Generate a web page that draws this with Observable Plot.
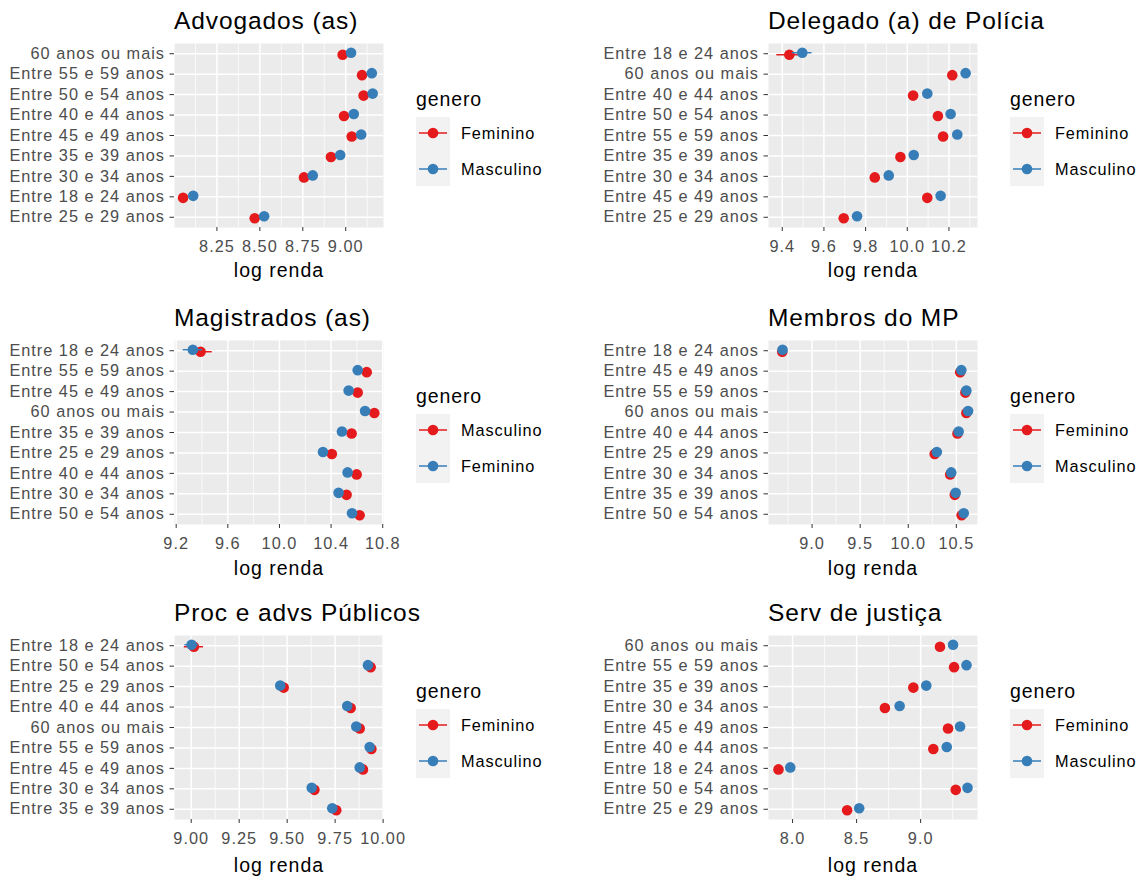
<!DOCTYPE html>
<html>
<head>
<meta charset="utf-8">
<script src="https://cdn.jsdelivr.net/npm/d3@7"></script>
<script src="https://cdn.jsdelivr.net/npm/@observablehq/plot@0.6"></script>
<style>
  html, body { margin: 0; padding: 0; background: #ffffff; }
  body { font-family: "Liberation Sans", Arial, sans-serif; }
  #root { position: relative; width: 1143px; height: 877px; overflow: hidden; }
  .cell { position: absolute; width: 570px; }
  .cell svg { display: block; overflow: visible; }
  .ptitle { position: absolute; left: 174px; font-size: 24.5px; line-height: 25px; letter-spacing: 0.9px; color: #000; white-space: nowrap; }
  .legend { position: absolute; left: 410px; }
</style>
</head>
<body>
<div id="root"></div>
<script>
// ---------- data ----------
const advCats = ["60 anos ou mais","Entre 55 e 59 anos","Entre 50 e 54 anos","Entre 40 e 44 anos","Entre 45 e 49 anos","Entre 35 e 39 anos","Entre 30 e 34 anos","Entre 18 e 24 anos","Entre 25 e 29 anos"];
const advFem  = [8.982, 9.095, 9.104, 8.990, 9.035, 8.914, 8.757, 8.053, 8.470];
const advMasc = [9.031, 9.152, 9.157, 9.047, 9.090, 8.968, 8.808, 8.112, 8.525];
const advFemErr  = [0.012, 0.010, 0.010, 0.010, 0.010, 0.010, 0.010, 0.020, 0.012];
const advMascErr = [0.012, 0.010, 0.010, 0.010, 0.010, 0.010, 0.010, 0.020, 0.012];
const advTicks = [8.25, 8.5, 8.75, 9.0];

const delCats = ["Entre 18 e 24 anos","60 anos ou mais","Entre 40 e 44 anos","Entre 50 e 54 anos","Entre 55 e 59 anos","Entre 35 e 39 anos","Entre 30 e 34 anos","Entre 45 e 49 anos","Entre 25 e 29 anos"];
const delFem  = [9.434, 10.216, 10.028, 10.147, 10.172, 9.967, 9.844, 10.096, 9.695];
const delMasc = [9.496, 10.280, 10.096, 10.208, 10.240, 10.031, 9.911, 10.160, 9.759];
const delFemErr  = [0.060, 0.012, 0.010, 0.010, 0.010, 0.010, 0.010, 0.010, 0.012];
const delMascErr = [0.047, 0.012, 0.010, 0.010, 0.010, 0.010, 0.010, 0.010, 0.012];
const delTicks = [9.4, 9.6, 9.8, 10.0, 10.2];

const magCats = ["Entre 18 e 24 anos","Entre 55 e 59 anos","Entre 45 e 49 anos","60 anos ou mais","Entre 35 e 39 anos","Entre 25 e 29 anos","Entre 40 e 44 anos","Entre 30 e 34 anos","Entre 50 e 54 anos"];
const magMasc = [9.389, 10.676, 10.606, 10.735, 10.559, 10.406, 10.598, 10.520, 10.621];
const magFem  = [9.329, 10.606, 10.536, 10.663, 10.484, 10.337, 10.528, 10.458, 10.562];
const magMascErr = [0.090, 0.015, 0.012, 0.015, 0.012, 0.012, 0.012, 0.012, 0.012];
const magFemErr  = [0.075, 0.015, 0.012, 0.015, 0.012, 0.012, 0.012, 0.012, 0.012];
const magTicks = [9.2, 9.6, 10.0, 10.4, 10.8];

const mpCats = ["Entre 18 e 24 anos","Entre 45 e 49 anos","Entre 55 e 59 anos","60 anos ou mais","Entre 40 e 44 anos","Entre 25 e 29 anos","Entre 30 e 34 anos","Entre 35 e 39 anos","Entre 50 e 54 anos"];
const mpFem  = [8.690, 10.540, 10.594, 10.604, 10.512, 10.275, 10.436, 10.484, 10.555];
const mpMasc = [8.693, 10.552, 10.604, 10.622, 10.524, 10.297, 10.447, 10.493, 10.577];
const mpFemErr  = [0.035, 0.015, 0.012, 0.012, 0.012, 0.012, 0.012, 0.012, 0.012];
const mpMascErr = [0.015, 0.010, 0.010, 0.010, 0.010, 0.010, 0.010, 0.010, 0.010];
const mpTicks = [9.0, 9.5, 10.0, 10.5];

const procCats = ["Entre 18 e 24 anos","Entre 50 e 54 anos","Entre 25 e 29 anos","Entre 40 e 44 anos","60 anos ou mais","Entre 55 e 59 anos","Entre 45 e 49 anos","Entre 30 e 34 anos","Entre 35 e 39 anos"];
const procFem  = [9.014, 9.935, 9.482, 9.831, 9.878, 9.939, 9.895, 9.642, 9.756];
const procMasc = [9.002, 9.921, 9.464, 9.813, 9.860, 9.930, 9.878, 9.628, 9.735];
const procFemErr  = [0.050, 0.025, 0.020, 0.022, 0.022, 0.025, 0.022, 0.020, 0.022];
const procMascErr = [0.035, 0.012, 0.012, 0.012, 0.012, 0.012, 0.012, 0.012, 0.012];
const procTicks = [9.0, 9.25, 9.5, 9.75, 10.0];

const servCats = ["60 anos ou mais","Entre 55 e 59 anos","Entre 35 e 39 anos","Entre 30 e 34 anos","Entre 45 e 49 anos","Entre 40 e 44 anos","Entre 18 e 24 anos","Entre 50 e 54 anos","Entre 25 e 29 anos"];
const servFem  = [9.151, 9.261, 8.943, 8.721, 9.214, 9.099, 7.890, 9.274, 8.426];
const servMasc = [9.253, 9.358, 9.044, 8.836, 9.308, 9.204, 7.982, 9.366, 8.520];
const servFemErr  = [0.008, 0.008, 0.008, 0.008, 0.008, 0.008, 0.012, 0.008, 0.008];
const servMascErr = [0.008, 0.008, 0.008, 0.008, 0.008, 0.008, 0.012, 0.008, 0.008];
const servTicks = [8.0, 8.5, 9.0];

// ---------- panels ----------
const RED = "#E41A1C", BLUE = "#377EB8";
const panels = [
  {title: "Advogados (as)", cats: advCats, levels: ["Feminino","Masculino"], vals: [advFem, advMasc], errs: [advFemErr, advMascErr], ticks: advTicks, fmt: ".2f", domain: [8.003, 9.22]},
  {title: "Delegado (a) de Polícia", cats: delCats, levels: ["Feminino","Masculino"], vals: [delFem, delMasc], errs: [delFemErr, delMascErr], ticks: delTicks, fmt: ".1f", domain: [9.334, 10.337]},
  {title: "Magistrados (as)", cats: magCats, levels: ["Masculino","Feminino"], vals: [magMasc, magFem], errs: [magMascErr, magFemErr], ticks: magTicks, fmt: ".1f", domain: [9.187, 10.806]},
  {title: "Membros do MP", cats: mpCats, levels: ["Feminino","Masculino"], vals: [mpFem, mpMasc], errs: [mpFemErr, mpMascErr], ticks: mpTicks, fmt: ".1f", domain: [8.547, 10.72]},
  {title: "Proc e advs Públicos", cats: procCats, levels: ["Feminino","Masculino"], vals: [procFem, procMasc], errs: [procFemErr, procMascErr], ticks: procTicks, fmt: ".2f", domain: [8.913, 10.002]},
  {title: "Serv de justiça", cats: servCats, levels: ["Feminino","Masculino"], vals: [servFem, servMasc], errs: [servFemErr, servMascErr], ticks: servTicks, fmt: ".1f", domain: [7.812, 9.444]}
];

const cells = [
  {left: 0,   top: 0,   mt: 43, h: 295, labDy: 43},
  {left: 594, top: 0,   mt: 43, h: 295, labDy: 43},
  {left: 0,   top: 295, mt: 45, h: 295, labDy: 44},
  {left: 594, top: 295, mt: 45, h: 295, labDy: 44},
  {left: 0,   top: 590, mt: 45, h: 287, labDy: 46},
  {left: 594, top: 590, mt: 45, h: 287, labDy: 46}
];

const FONT = '"Liberation Sans", Arial, sans-serif';
const PANEL_H = 184;

function minorTicks(ticks, domain) {
  const step = ticks[1] - ticks[0];
  const out = ticks.map(t => t - step / 2).concat([ticks[ticks.length - 1] + step / 2]);
  return out.filter(t => t > domain[0] && t < domain[1]);
}

function makeLegend(levels) {
  const svg = d3.create("svg").attr("width", 170).attr("height", 110)
    .style("font-family", FONT).style("letter-spacing", "0.9px");
  svg.append("text").attr("x", 6).attr("y", 21).attr("font-size", 19.5).attr("fill", "#000").text("genero");
  svg.append("rect").attr("x", 6).attr("y", 32).attr("width", 34).attr("height", 69).attr("fill", "#F2F2F2");
  const cols = [RED, BLUE];
  levels.forEach((l, i) => {
    const cy = 48 + i * 36;
    svg.append("line").attr("x1", 9).attr("x2", 37).attr("y1", cy).attr("y2", cy)
      .attr("stroke", cols[i]).attr("stroke-width", 1.5);
    svg.append("circle").attr("cx", 23).attr("cy", cy).attr("r", 5.3).attr("fill", cols[i]);
    svg.append("text").attr("x", 51).attr("y", cy + 6).attr("font-size", 16.3).attr("fill", "#000").text(l);
  });
  return svg.node();
}

const root = document.getElementById("root");

panels.forEach((p, k) => {
  const c = cells[k];
  const series = p.levels.map((lev, s) =>
    p.cats.map((cat, i) => ({cat, g: lev, v: p.vals[s][i], e: p.errs[s][i]}))
  );
  const mb = c.h - c.mt - PANEL_H;
  const marks = [
    Plot.frame({fill: "#EBEBEB"}),
    Plot.gridX(minorTicks(p.ticks, p.domain), {stroke: "#ffffff", strokeOpacity: 1, strokeWidth: 0.75}),
    Plot.gridX(p.ticks, {stroke: "#ffffff", strokeOpacity: 1, strokeWidth: 1.5}),
    Plot.gridY(p.cats, {stroke: "#ffffff", strokeOpacity: 1, strokeWidth: 1.5})
  ];
  series.forEach((rows, s) => {
    const dy = s === 0 ? 1 : -1;
    marks.push(Plot.ruleY(rows, {y: "cat", x1: d => d.v - d.e, x2: d => d.v + d.e, stroke: "g", strokeWidth: 1.5, dy}));
    marks.push(Plot.dot(rows, {x: "v", y: "cat", fill: "g", r: 5.3, dy}));
  });
  marks.push(
    Plot.axisX(p.ticks, {tickFormat: d3.format(p.fmt), tickSize: 4, tickPadding: 8.5, fontSize: 16.3, fill: "#4D4D4D", stroke: "#333333", label: null}),
    Plot.axisY(p.cats, {tickSize: 4.5, tickPadding: 5, fontSize: 16.3, fill: "#4D4D4D", stroke: "#333333", label: null}),
    Plot.text(["log renda"], {frameAnchor: "bottom", lineAnchor: "middle", dy: c.labDy, fontSize: 19.5, fill: "#000000", text: d => d})
  );

  const chart = Plot.plot({
    width: 400,
    height: c.h,
    marginLeft: 174,
    marginRight: 17,
    marginTop: c.mt,
    marginBottom: mb,
    style: {background: "transparent", fontFamily: FONT, letterSpacing: "1px", overflow: "visible"},
    x: {domain: p.domain, label: null},
    y: {type: "point", domain: p.cats, padding: 0.5, round: false, label: null},
    color: {domain: p.levels, range: [RED, BLUE]},
    marks
  });

  const cell = document.createElement("div");
  cell.className = "cell";
  cell.style.left = c.left + "px";
  cell.style.top = c.top + "px";
  cell.style.height = c.h + "px";
  cell.appendChild(chart);

  const t = document.createElement("div");
  t.className = "ptitle";
  t.style.top = (c.mt - 35) + "px";
  t.textContent = p.title;
  cell.appendChild(t);

  const lg = document.createElement("div");
  lg.className = "legend";
  lg.style.top = (c.mt + 42) + "px";
  lg.appendChild(makeLegend(p.levels));
  cell.appendChild(lg);

  root.appendChild(cell);
});
</script>
</body>
</html>
